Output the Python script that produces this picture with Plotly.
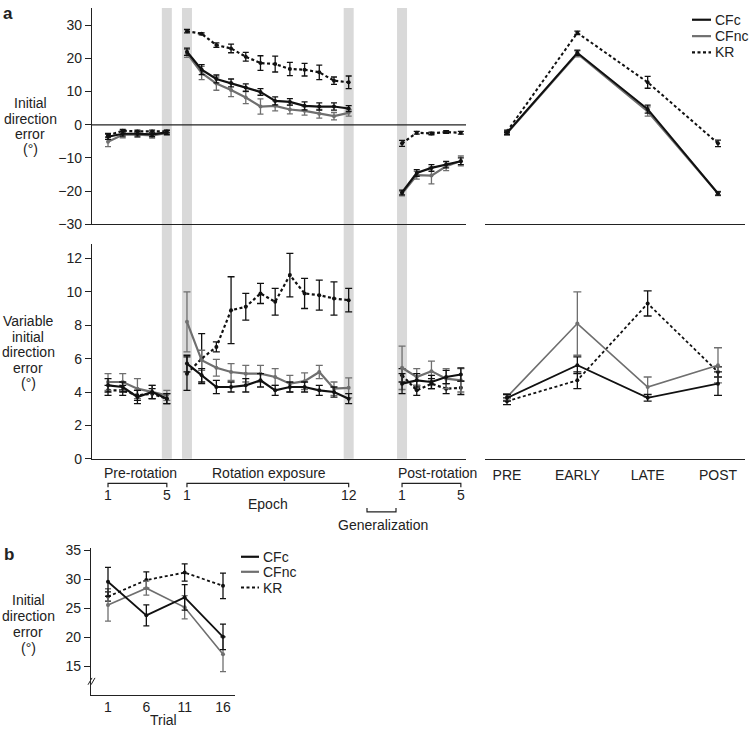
import plotly.graph_objects as go

# ---------------- data ----------------
# Panel a, top: initial direction error (deg)
pre_cfc = [-3.6, -2.7, -2.7, -2.9, -2.3]
pre_cfc_err = [0.8, 0.7, 0.7, 0.7, 0.6]
pre_cfnc = [-5.1, -3.0, -3.0, -3.2, -2.5]
pre_cfnc_err = [1.5, 0.9, 0.8, 0.8, 0.7]
pre_kr = [-3.2, -1.8, -2.0, -2.0, -2.0]
pre_kr_err = [0.6, 0.4, 0.4, 0.4, 0.4]

rot_cfc = [22.0, 16.6, 13.8, 12.6, 11.2, 9.9, 7.2, 6.9, 5.7, 5.5, 5.5, 4.9]
rot_cfc_err = [1.1, 1.5, 1.2, 1.2, 1.1, 1.0, 1.2, 1.0, 1.2, 1.1, 1.1, 0.9]
rot_cfnc = [21.5, 15.6, 12.4, 10.5, 8.2, 5.5, 5.7, 4.6, 4.2, 3.3, 2.6, 3.6]
rot_cfnc_err = [1.2, 2.0, 2.0, 2.0, 1.8, 2.3, 1.5, 1.3, 1.3, 1.3, 1.1, 1.0]
rot_kr = [28.2, 27.4, 24.0, 23.0, 20.5, 18.6, 18.3, 16.8, 16.6, 15.8, 13.3, 12.8]
rot_kr_err = [0.5, 0.3, 0.7, 1.3, 1.3, 2.2, 2.4, 2.0, 1.9, 2.2, 1.1, 1.9]

post_cfc = [-20.4, -14.5, -13.0, -12.0, -11.0]
post_cfc_err = [0.7, 1.0, 1.0, 1.0, 1.0]
post_cfnc = [-20.7, -15.2, -15.3, -12.5, -10.9]
post_cfnc_err = [0.7, 1.2, 2.5, 1.3, 1.5]
post_kr = [-5.6, -2.4, -2.6, -2.2, -2.4]
post_kr_err = [0.9, 0.4, 0.4, 0.4, 0.4]

phase_labels = ["PRE", "EARLY", "LATE", "POST"]
sum_cfc = [-2.4, 21.7, 4.7, -20.7]
sum_cfc_err = [0.5, 0.8, 1.2, 0.5]
sum_cfnc = [-2.6, 21.4, 4.0, -20.7]
sum_cfnc_err = [0.6, 0.9, 1.4, 0.6]
sum_kr = [-2.0, 27.7, 12.8, -5.6]
sum_kr_err = [0.4, 0.5, 1.8, 1.0]

# Panel a, bottom: variable initial direction error (deg)
pre_cfc_v = [4.4, 4.3, 3.7, 4.0, 3.6]
pre_cfc_v_err = [0.4, 0.3, 0.4, 0.4, 0.3]
pre_cfnc_v = [4.6, 4.6, 4.2, 4.0, 3.8]
pre_cfnc_v_err = [0.5, 0.5, 0.6, 0.4, 0.3]
pre_kr_v = [4.1, 4.1, 3.8, 3.9, 3.6]
pre_kr_v_err = [0.3, 0.3, 0.3, 0.3, 0.3]

rot_cfc_v = [5.7, 5.0, 4.3, 4.3, 4.4, 4.7, 4.1, 4.3, 4.3, 4.1, 4.0, 3.6]
rot_cfc_v_err = [0.5, 0.4, 0.4, 0.3, 0.4, 0.4, 0.3, 0.3, 0.3, 0.3, 0.3, 0.3]
rot_cfnc_v = [8.2, 5.9, 5.45, 5.2, 5.1, 5.1, 4.9, 4.5, 4.65, 5.2, 4.2, 4.25]
rot_cfnc_v_err = [1.8, 0.6, 0.5, 0.5, 0.5, 0.5, 0.5, 0.5, 0.5, 0.4, 0.4, 0.6]
rot_kr_v = [5.1, 6.0, 6.7, 8.9, 9.1, 9.9, 9.4, 11.0, 9.9, 9.8, 9.6, 9.5]
rot_kr_v_err = [1.0, 1.5, 0.3, 2.0, 0.8, 0.6, 0.8, 1.3, 0.9, 0.9, 1.0, 0.7]

post_cfc_v = [4.5, 4.7, 4.6, 4.9, 5.05]
post_cfc_v_err = [0.6, 0.4, 0.4, 0.4, 0.4]
post_cfnc_v = [5.45, 4.9, 5.25, 4.8, 4.7]
post_cfnc_v_err = [1.3, 0.5, 0.6, 0.6, 0.7]
post_kr_v = [5.0, 4.1, 4.5, 4.2, 4.25]
post_kr_v_err = [0.4, 0.3, 0.3, 0.3, 0.4]

sum_cfc_v = [3.65, 5.6, 3.65, 4.5]
sum_cfc_v_err = [0.2, 0.5, 0.2, 0.7]
sum_cfnc_v = [3.7, 8.1, 4.3, 5.6]
sum_cfnc_v_err = [0.2, 1.9, 0.6, 1.05]
sum_kr_v = [3.45, 4.7, 9.3, 5.2]
sum_kr_v_err = [0.2, 0.5, 0.75, 0.3]

# Panel b: initial direction error per trial
trials = [1, 6, 11, 16]
b_cfc = [29.6, 23.8, 26.9, 20.1]
b_cfc_err = [2.5, 1.8, 2.2, 2.2]
b_cfnc = [25.6, 28.5, 25.2, 17.1]
b_cfnc_err = [2.8, 1.2, 2.0, 3.0]
b_kr = [27.05, 29.9, 31.2, 28.9]
b_kr_err = [0.8, 1.4, 1.5, 2.2]

epoch_ticks = ["1", "5", "1", "12", "1", "5"]

# ---------------- layout helpers ----------------
W, H = 750, 735
FONT = "Liberation Sans, Arial, Helvetica, sans-serif"


def fx(px):
    return px / W


def fy(py):
    return 1 - py / H


ROT_START = 5.37
POST_START = 20.0
pre_x = list(range(len(pre_cfc)))
rot_x = [ROT_START + i for i in range(len(rot_cfc))]
post_x = [POST_START + i for i in range(len(post_cfc))]
sum_x = list(range(len(phase_labels)))

styles = {
    "CFc": dict(color="#111111", dash="solid"),
    "CFnc": dict(color="#6f6f6f", dash="solid"),
    "KR": dict(color="#111111", dash="3px,2.5px"),
}

fig = go.Figure()


def add(x, y, err, name, xa, ya, width=2.2, cap=3):
    st = styles[name]
    fig.add_trace(go.Scatter(
        x=x, y=y, mode="lines+markers", xaxis=xa, yaxis=ya, name=name,
        line=dict(color=st["color"], width=width, dash=st["dash"]),
        marker=dict(size=4, color=st["color"]),
        error_y=dict(type="data", array=err, visible=True, color=st["color"],
                     thickness=1.3, width=cap),
        showlegend=False, hoverinfo="skip"))


# top-left
for xs, (kr, kre), (cn, cne), (cf, cfe) in [
    (pre_x, (pre_kr, pre_kr_err), (pre_cfnc, pre_cfnc_err), (pre_cfc, pre_cfc_err)),
    (rot_x, (rot_kr, rot_kr_err), (rot_cfnc, rot_cfnc_err), (rot_cfc, rot_cfc_err)),
    (post_x, (post_kr, post_kr_err), (post_cfnc, post_cfnc_err), (post_cfc, post_cfc_err)),
]:
    add(xs, kr, kre, "KR", "x", "y")
    add(xs, cn, cne, "CFnc", "x", "y")
    add(xs, cf, cfe, "CFc", "x", "y")

# top-right
add(sum_x, sum_kr, sum_kr_err, "KR", "x2", "y", width=2)
add(sum_x, sum_cfnc, sum_cfnc_err, "CFnc", "x2", "y", width=2)
add(sum_x, sum_cfc, sum_cfc_err, "CFc", "x2", "y", width=2)

# bottom-left
for xs, (kr, kre), (cn, cne), (cf, cfe) in [
    (pre_x, (pre_kr_v, pre_kr_v_err), (pre_cfnc_v, pre_cfnc_v_err), (pre_cfc_v, pre_cfc_v_err)),
    (rot_x, (rot_kr_v, rot_kr_v_err), (rot_cfnc_v, rot_cfnc_v_err), (rot_cfc_v, rot_cfc_v_err)),
    (post_x, (post_kr_v, post_kr_v_err), (post_cfnc_v, post_cfnc_v_err), (post_cfc_v, post_cfc_v_err)),
]:
    add(xs, kr, kre, "KR", "x3", "y2", cap=3.5)
    add(xs, cn, cne, "CFnc", "x3", "y2", cap=3.5)
    add(xs, cf, cfe, "CFc", "x3", "y2", cap=3.5)

# bottom-right
add(sum_x, sum_kr_v, sum_kr_v_err, "KR", "x4", "y2", width=1.8, cap=4)
add(sum_x, sum_cfnc_v, sum_cfnc_v_err, "CFnc", "x4", "y2", width=1.6, cap=4)
add(sum_x, sum_cfc_v, sum_cfc_v_err, "CFc", "x4", "y2", width=1.8, cap=4)

# panel b
add(trials, b_kr, b_kr_err, "KR", "x5", "y3", width=1.8, cap=3)
add(trials, b_cfnc, b_cfnc_err, "CFnc", "x5", "y3", width=1.6, cap=3)
add(trials, b_cfc, b_cfc_err, "CFc", "x5", "y3", width=1.8, cap=3)

# ---------------- axes ----------------
LEFT_DOM = [fx(92), fx(466)]
RIGHT_DOM = [fx(485), fx(745)]
XR = [-1.09, 24.35]
SR = [-0.313, 3.384]
TOP_DOM = [fy(223.3), fy(3)]
BOT_DOM = [fy(462), fy(243)]

axis_common = dict(showgrid=False, zeroline=False, showline=True, linecolor="#222",
                   linewidth=1.2, tickfont=dict(family=FONT, size=14, color="#222"))

fig.update_layout(
    width=W, height=H, margin=dict(l=0, r=0, t=0, b=0),
    paper_bgcolor="white", plot_bgcolor="white", showlegend=False,
    font=dict(family=FONT, size=14, color="#222"),
    xaxis=dict(domain=LEFT_DOM, range=XR, anchor="y", ticks="", showticklabels=False, **axis_common),
    xaxis2=dict(domain=RIGHT_DOM, range=SR, anchor="y", ticks="", showticklabels=False, **axis_common),
    yaxis=dict(domain=TOP_DOM, range=[-30, 35.2], anchor="x", tickvals=[-30, -20, -10, 0, 10, 20, 30],
               ticks="outside", ticklen=6, tickcolor="#222", **axis_common),
    xaxis3=dict(domain=LEFT_DOM, range=XR, anchor="y2", ticks="", showticklabels=False, **axis_common),
    xaxis4=dict(domain=RIGHT_DOM, range=SR, anchor="y2", ticks="", tickvals=sum_x,
                ticktext=phase_labels, ticklabelstandoff=3, **axis_common),
    yaxis2=dict(domain=BOT_DOM, range=[0, 12.88], anchor="x3", tickvals=[0, 2, 4, 6, 8, 10, 12],
                ticks="outside", ticklen=6, tickcolor="#222", **axis_common),
    xaxis5=dict(domain=[fx(91), fx(235)], range=[-1.217, 17.565], anchor="y3", ticks="",
                tickvals=trials, ticktext=[str(t) for t in trials], ticklabelstandoff=0, **axis_common),
    yaxis3=dict(domain=[fy(702), fy(552.7)], range=[10.12, 35.45], anchor="x5",
                tickvals=[15, 20, 25, 30, 35], ticks="outside", ticklen=6, tickcolor="#222", **axis_common),
)

shapes = []
# grey bands
band_centers = [pre_x[-1], rot_x[0], rot_x[-1], post_x[0]]
for c in band_centers:
    shapes.append(dict(type="rect", xref="x", yref="paper", x0=c - 0.34, x1=c + 0.34,
                       y0=fy(462), y1=fy(3), fillcolor="#d9d9d9", line=dict(width=0), layer="below"))
# zero line top-left
shapes.append(dict(type="line", xref="x domain", yref="y", x0=0, x1=1, y0=0, y1=0,
                   line=dict(color="#222", width=1.2)))


# brackets
def bracket_down(x0, x1, yb, h, xref="x"):
    return dict(type="path", xref=xref, yref="paper",
                path=f"M {x0},{fy(yb + h)} L {x0},{fy(yb)} L {x1},{fy(yb)} L {x1},{fy(yb + h)}",
                line=dict(color="#222", width=1.2))


shapes.append(bracket_down(pre_x[0], pre_x[-1], 487, 4))
shapes.append(bracket_down(rot_x[0], rot_x[-1], 487, 4))
shapes.append(bracket_down(post_x[0], post_x[-1], 487, 4))
shapes.append(dict(type="path", xref="paper", yref="paper",
                   path=f"M {fx(367)},{fy(512)} L {fx(367)},{fy(516)} L {fx(396)},{fy(516)} L {fx(396)},{fy(512)}",
                   line=dict(color="#222", width=1.2)))

# axis break marks on panel b
for dx in (0, 3):
    shapes.append(dict(type="line", xref="paper", yref="paper",
                       x0=fx(88 + dx), y0=fy(692), x1=fx(92 + dx), y1=fy(685),
                       line=dict(color="#222", width=1)))

# manual legends
leg_top = [("CFc", 15), ("CFnc", 31.7), ("KR", 48.3)]
leg_b = [("CFc", 561.7), ("CFnc", 577), ("KR", 593)]
annotations = []
for items, lx0, lx1, tx in [(leg_top, 692, 711, 713), (leg_b, 241, 259, 261)]:
    for name, yy in items:
        st = styles[name]
        shapes.append(dict(type="line", xref="paper", yref="paper", x0=fx(lx0), x1=fx(lx1),
                           y0=fy(yy), y1=fy(yy),
                           line=dict(color=st["color"], width=2.2, dash=st["dash"])))
        annotations.append(dict(x=fx(tx), y=fy(yy), xref="paper", yref="paper", text=name,
                                showarrow=False, xanchor="left", yanchor="middle",
                                font=dict(family=FONT, size=14, color="#222")))


def txt(text, x, y, size=14, bold=False, xref="paper", anchor="center"):
    annotations.append(dict(x=x, y=fy(y), xref=xref, yref="paper",
                            text=f"<b>{text}</b>" if bold else text, showarrow=False,
                            xanchor=anchor, yanchor="middle",
                            font=dict(family=FONT, size=size, color="#222")))


txt("a", fx(8), 9, size=17, bold=True)
txt("b", fx(9), 559, size=17, bold=True)

for i, line in enumerate(["Initial", "direction", "error", "(°)"]):
    txt(line, fx(30), 100 + 15.7 * i)
for i, line in enumerate(["Variable", "initial", "direction", "error", "(°)"]):
    txt(line, fx(28), 322 + 15.7 * i)
for i, line in enumerate(["Initial", "direction", "error", "(°)"]):
    txt(line, fx(28), 606 + 16.2 * i)

txt("Pre-rotation", fx(140), 476)
txt("Rotation exposure", fx(269), 476)
txt("Post-rotation", fx(437), 476)
for xv, lab in zip([pre_x[0], pre_x[-1], rot_x[0], rot_x[-1], post_x[0], post_x[-1]], epoch_ticks):
    txt(lab, xv, 499, xref="x")
txt("Epoch", fx(268), 508)
txt("Generalization", fx(383), 529)
txt("Trial", fx(163), 727.5)

fig.update_layout(shapes=shapes, annotations=annotations)
fig.write_html("out.html", config={"displayModeBar": False})

# remove default page margin so the figure sits at the window's top-left corner
with open("out.html", "r", encoding="utf-8") as f:
    html = f.read()
html = html.replace("<head>", "<head><style>html,body{margin:0;padding:0;overflow:hidden;}</style>", 1)
with open("out.html", "w", encoding="utf-8") as f:
    f.write(html)
